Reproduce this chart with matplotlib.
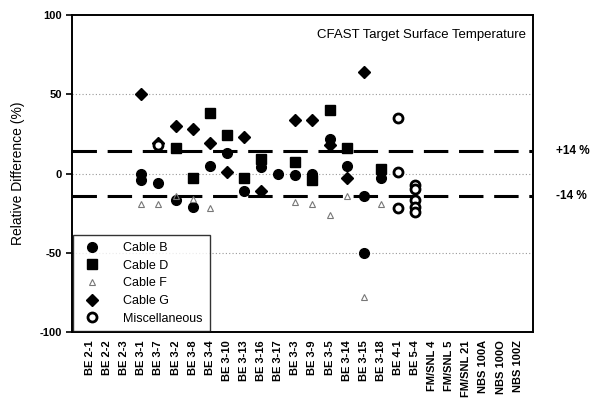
import matplotlib
matplotlib.use("Agg")
import matplotlib.pyplot as plt

plt.rcParams['font.family'] = ['Liberation Sans', 'DejaVu Sans']

tests = ["BE 2-1", "BE 2-2", "BE 2-3", "BE 3-1", "BE 3-7", "BE 3-2", "BE 3-8",
         "BE 3-4", "BE 3-10", "BE 3-13", "BE 3-16", "BE 3-17", "BE 3-3", "BE 3-9",
         "BE 3-5", "BE 3-14", "BE 3-15", "BE 3-18", "BE 4-1", "BE 5-4",
         "FM/SNL 4", "FM/SNL 5", "FM/SNL 21", "NBS 100A", "NBS 100O", "NBS 100Z"]

# (test, relative difference %) per series
cable_b_x = ["BE 3-1", "BE 3-1", "BE 3-7", "BE 3-2", "BE 3-8", "BE 3-4", "BE 3-10",
             "BE 3-13", "BE 3-16", "BE 3-17", "BE 3-3", "BE 3-9", "BE 3-5", "BE 3-14",
             "BE 3-15", "BE 3-15", "BE 3-18"]
cable_b_y = [0, -4, -6, -17, -21, 5, 13, -11, 4, 0, -1, 0, 22, 5, -14, -50, -3]

cable_d_x = ["BE 3-2", "BE 3-8", "BE 3-4", "BE 3-10", "BE 3-13", "BE 3-16", "BE 3-3",
             "BE 3-9", "BE 3-5", "BE 3-14", "BE 3-18"]
cable_d_y = [16, -3, 38, 24, -3, 9, 7, -4, 40, 16, 3]

cable_f_x = ["BE 3-1", "BE 3-7", "BE 3-2", "BE 3-8", "BE 3-4", "BE 3-3", "BE 3-9",
             "BE 3-5", "BE 3-14", "BE 3-15", "BE 3-18"]
cable_f_y = [-19, -19, -14, -16, -22, -18, -19, -26, -14, -78, -19]

cable_g_x = ["BE 3-1", "BE 3-7", "BE 3-2", "BE 3-8", "BE 3-4", "BE 3-10", "BE 3-13",
             "BE 3-16", "BE 3-3", "BE 3-9", "BE 3-5", "BE 3-14", "BE 3-15"]
cable_g_y = [50, 19, 30, 28, 19, 1, 23, -11, 34, 34, 18, -3, 64]

misc_x = ["BE 3-7", "BE 4-1", "BE 4-1", "BE 4-1", "BE 5-4", "BE 5-4", "BE 5-4",
          "BE 5-4", "BE 5-4"]
misc_y = [18, 35, 1, -22, -7, -10, -17, -21, -24]

pos = {t: i for i, t in enumerate(tests)}

fig = plt.figure(figsize=(6.01, 4.0), dpi=100)
ax = fig.add_axes([0.12, 0.17, 0.767, 0.7925])

for yv in [50, 0, -50]:
    ax.axhline(yv, color="#999999", lw=0.8, ls=(0, (1, 2)), zorder=1)
for yv in [14, -14]:
    ax.axhline(yv, color="black", lw=2.2, ls=(0, (8, 3.5)), zorder=2)

ax.plot([pos[t] for t in cable_b_x], cable_b_y, "o", color="black", ms=7,
        ls="none", label="Cable B", zorder=3)
ax.plot([pos[t] for t in cable_d_x], cable_d_y, "s", color="black", ms=6.5,
        ls="none", label="Cable D", zorder=3)
ax.plot([pos[t] for t in cable_f_x], cable_f_y, "^", color="#777777", ms=4,
        mfc="none", mew=0.8, ls="none", label="Cable F", zorder=3)
ax.plot([pos[t] for t in cable_g_x], cable_g_y, "D", color="black", ms=6.5,
        ls="none", label="Cable G", zorder=3)
ax.plot([pos[t] for t in misc_x], misc_y, "o", mec="black", mfc="white", mew=2,
        ms=6.5, ls="none", label="Miscellaneous", zorder=4)

ax.set_xlim(-1.05, 25.9)
ax.set_ylim(-100, 100)
ax.set_yticks([100, 50, 0, -50, -100])
ax.set_yticklabels(["100", "50", "0", "-50", "-100"], fontsize=8, fontweight="bold")
ax.set_xticks(range(len(tests)))
ax.set_xticklabels(tests, rotation=90, fontsize=8, fontweight="bold")
ax.tick_params(axis="x", length=0, pad=6)
ax.tick_params(axis="y", length=4, width=1.2, direction="out")
ax.set_ylabel("Relative Difference (%)", fontsize=10, labelpad=10)
for s in ax.spines.values():
    s.set_linewidth(1.4)

ax.text(0.985, 0.955, "CFAST Target Surface Temperature", transform=ax.transAxes,
        ha="right", va="top", fontsize=9.5)

ax.text(1.05, 14, "+14 %", transform=ax.get_yaxis_transform(), va="center",
        ha="left", fontsize=8.5, fontweight="bold")
ax.text(1.05, -14, "-14 %", transform=ax.get_yaxis_transform(), va="center",
        ha="left", fontsize=8.5, fontweight="bold")

leg = ax.legend(loc="lower left", fontsize=9, frameon=True, fancybox=False,
                edgecolor="black", borderaxespad=0.05, handletextpad=1.5,
                labelspacing=0.45, borderpad=0.55)
leg.get_frame().set_linewidth(1.0)

fig.savefig("out.png", dpi=100)
